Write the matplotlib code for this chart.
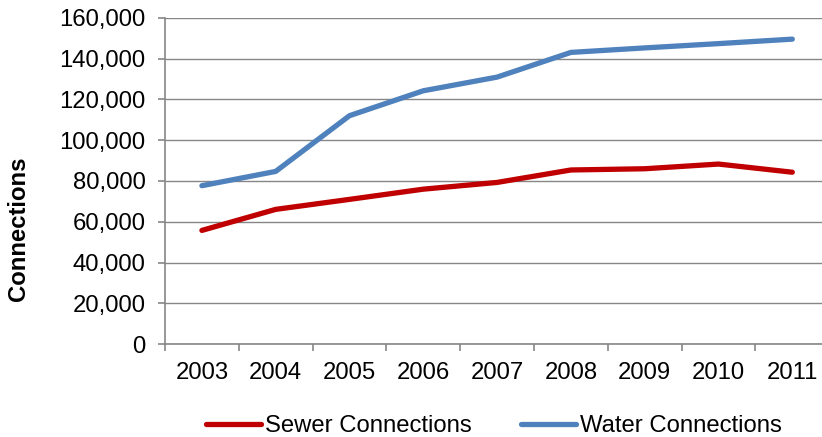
import matplotlib
matplotlib.use('Agg')
import matplotlib.pyplot as plt
from matplotlib.ticker import FuncFormatter, MultipleLocator, FixedLocator

plt.rcParams['font.family'] = ['Liberation Sans', 'DejaVu Sans']

years = ['2003', '2004', '2005', '2006', '2007', '2008', '2009', '2010', '2011']
sewer = [55800, 66100, 71000, 76000, 79300, 85400, 86000, 88300, 84300]
water = [77700, 84700, 112000, 124200, 130900, 143000, 145200, 147300, 149500]

grey = '#868686'
fs = 17.2

fig = plt.figure(figsize=(8.22, 4.37), dpi=100)
ax = fig.add_axes([165/822, 1 - 344.3/437, 664.2/822, 326.6/437])

x = range(len(years))
ax.plot(x, sewer, color='#C00000', lw=3.8, solid_capstyle='round', label='Sewer Connections', zorder=3)
ax.plot(x, water, color='#4F81BD', lw=3.8, solid_capstyle='round', label='Water Connections', zorder=3)

ax.set_xlim(-0.5, len(years) - 0.5)
ax.set_ylim(0, 160000)
ax.yaxis.set_major_locator(MultipleLocator(20000))
ax.yaxis.set_major_formatter(FuncFormatter(lambda v, p: f'{int(v):,}'))
ax.set_xticks(list(x))
ax.set_xticklabels(years)
ax.xaxis.set_minor_locator(FixedLocator([i - 0.5 for i in range(len(years) + 1)]))

ax.grid(axis='y', color=grey, lw=1.0)
ax.set_axisbelow(True)
for s in ['top', 'right']:
    ax.spines[s].set_visible(False)
for s in ['left', 'bottom']:
    ax.spines[s].set_color(grey)
    ax.spines[s].set_linewidth(1.2)

ax.tick_params(axis='y', length=5, width=1.2, color=grey, pad=9, labelsize=fs)
ax.tick_params(axis='x', which='major', length=0, pad=13, labelsize=fs)
ax.tick_params(axis='x', which='minor', length=5, width=1.2, color=grey)

fig.text(19/822, 1 - 229/437, 'Connections', rotation=90, ha='center', va='center',
         fontsize=fs, fontweight='bold')

fig.legend(loc='center', bbox_to_anchor=(494/822, 1 - 426/437), ncol=2, frameon=False,
           fontsize=fs, handlelength=2.3, handletextpad=0.17, columnspacing=2.05,
           borderpad=0, borderaxespad=0)

fig.savefig('out.png', dpi=100)
